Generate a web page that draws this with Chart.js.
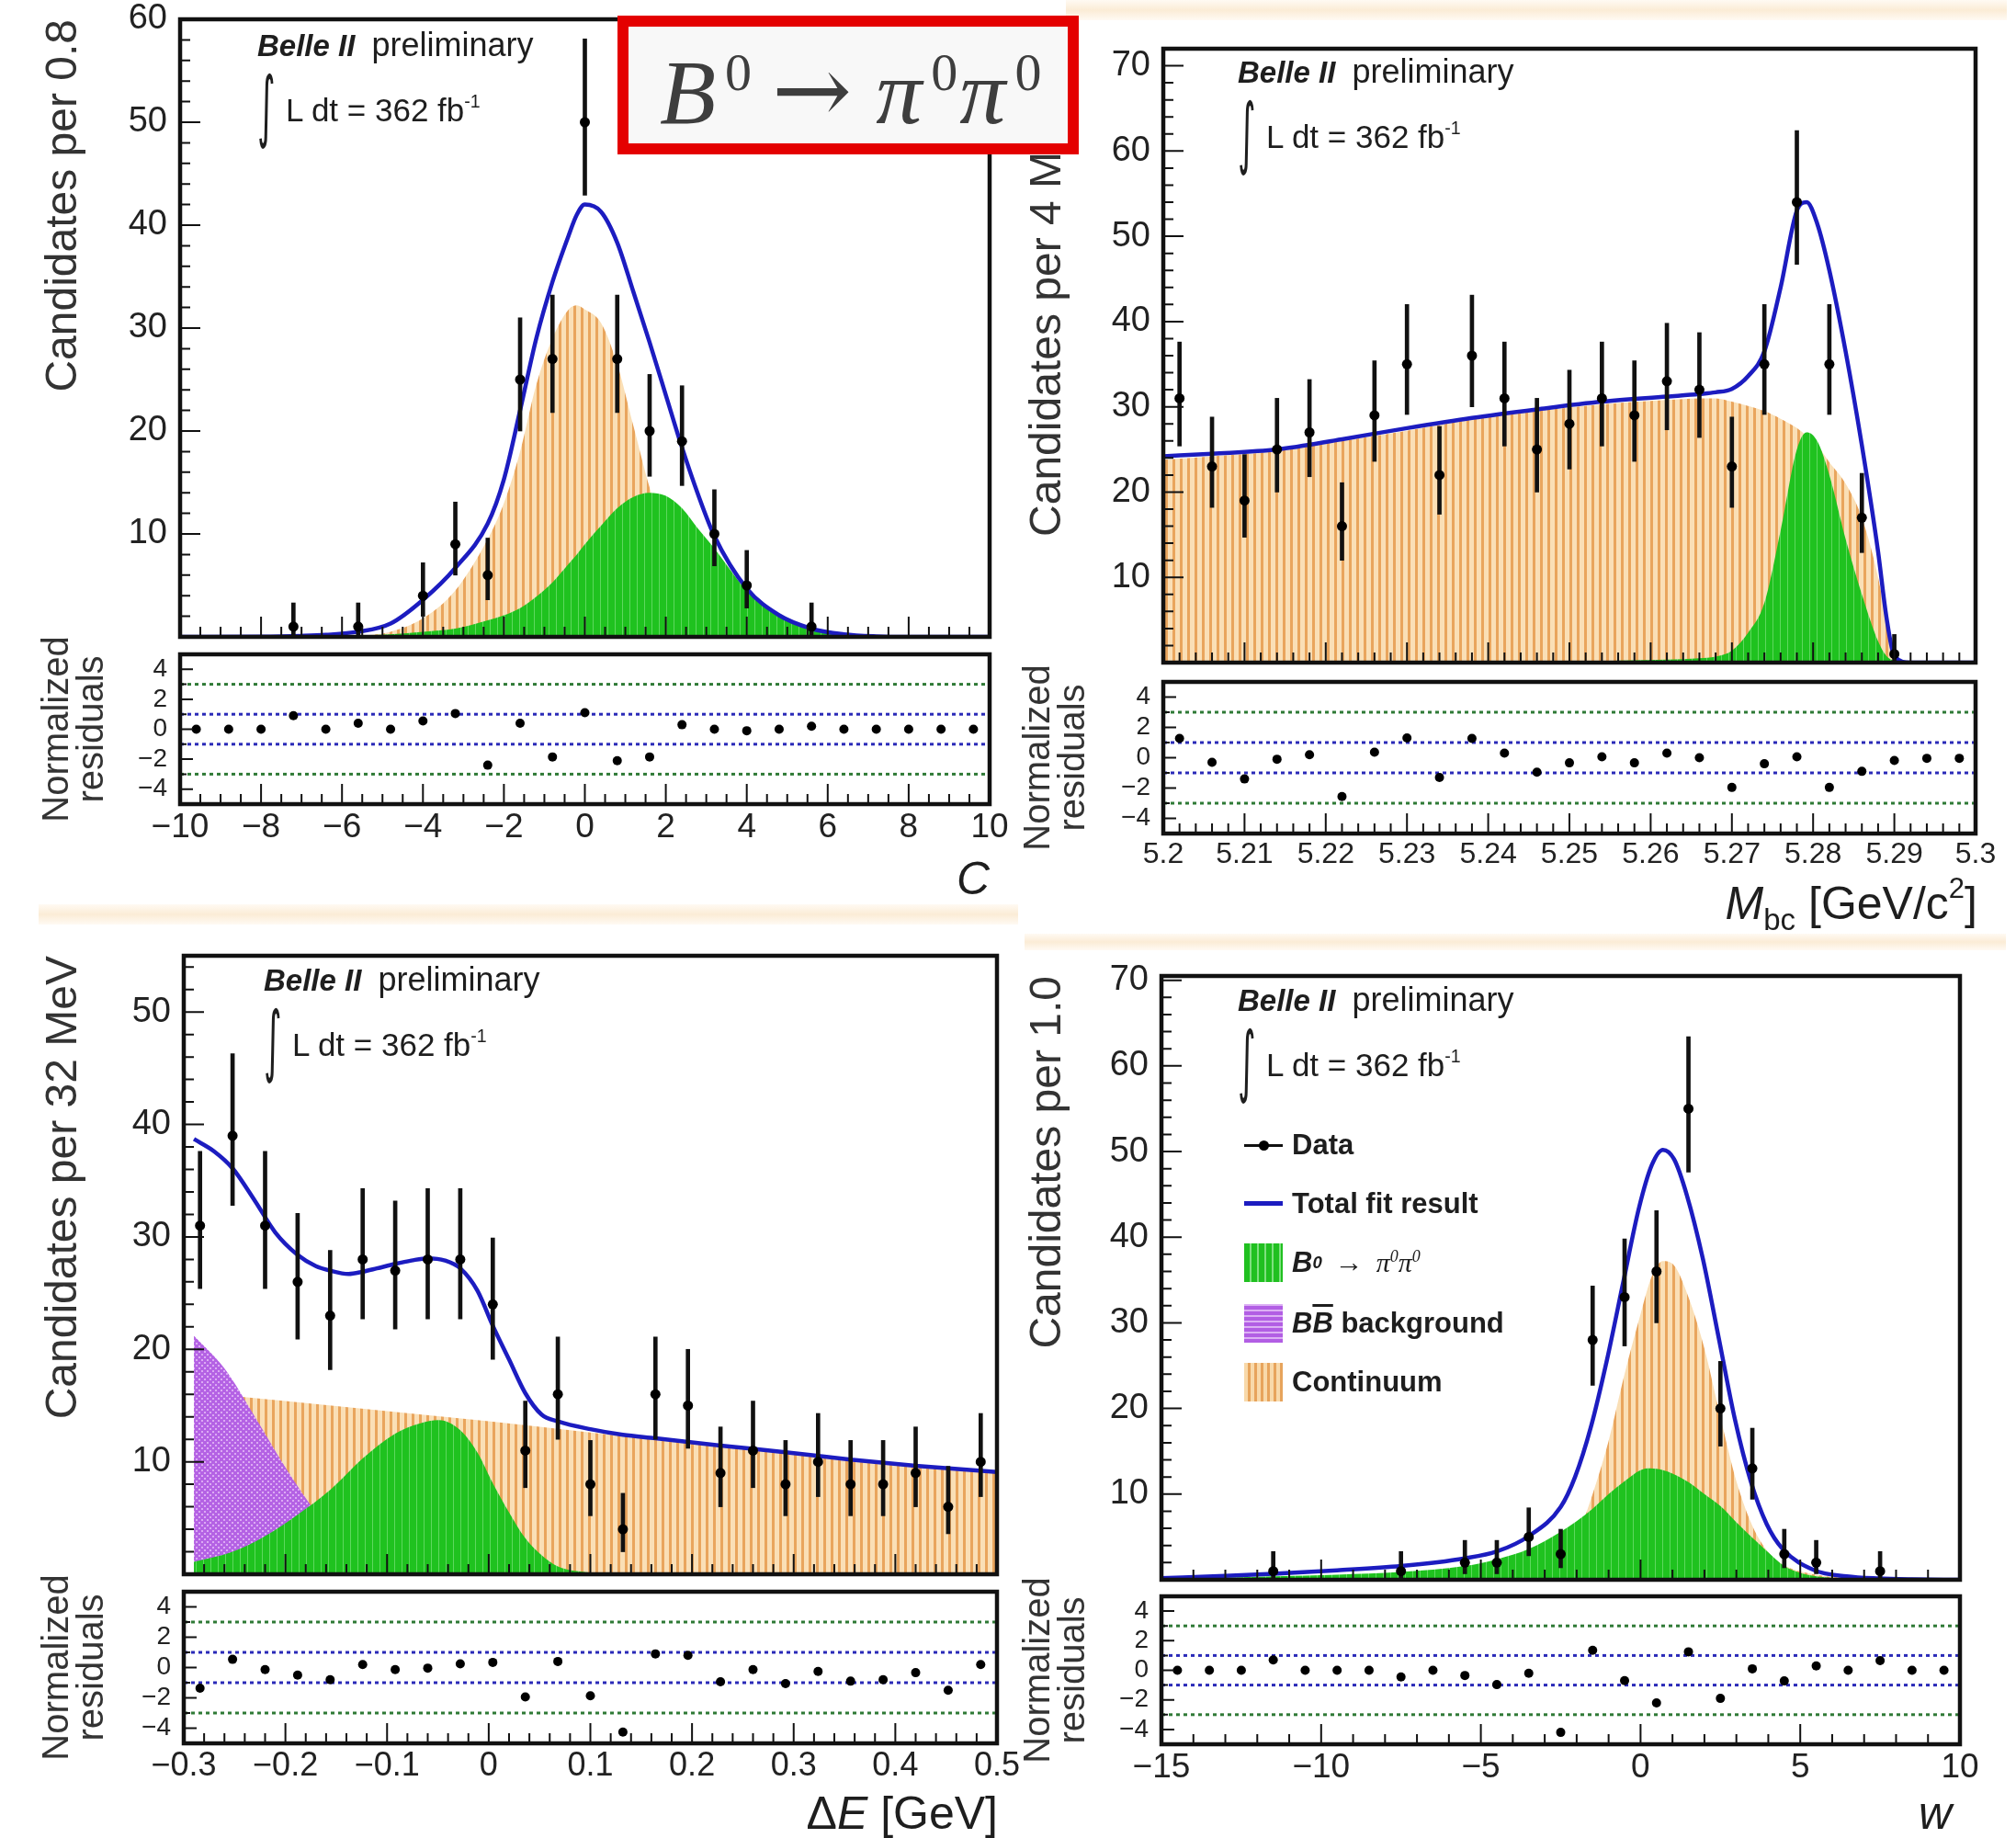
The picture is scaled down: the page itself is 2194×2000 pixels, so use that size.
<!DOCTYPE html>
<html>
<head>
<meta charset="utf-8">
<title>B0 to pi0 pi0 fit projections</title>
<script src="https://cdn.jsdelivr.net/npm/chart.js@4.4.1/dist/chart.umd.min.js"></script>
<style>
html, body { margin: 0; padding: 0; background: #fff; }
#page { position: relative; width: 2194px; height: 2000px; overflow: hidden; background: #fff;
        font-family: "Liberation Sans", Arial, sans-serif; color: #1e1e1e; }
#page canvas { position: absolute; }
.band { position: absolute; background: linear-gradient(#fffaf3, #fbecd6 50%, #fffaf3); }
.tag { position: absolute; width: 440px; height: 130px; z-index: 4; }
.tag .belle { position: absolute; left: 0; top: 0; font-size: 33px; line-height: 1; white-space: nowrap; }
.tag .belle b { font-style: italic; }
.tag .belle span { margin-left: 18px; font-size: 36px; }
.tag .int { position: absolute; left: -8px; top: 50px; font: 68px/1 "DejaVu Sans", sans-serif; transform: scale(0.55, 1.25); }
.tag .ldt { position: absolute; left: 31px; top: 71px; font-size: 35px; line-height: 1; white-space: nowrap; }
.tag sup { font-size: 56%; vertical-align: 0.75em; line-height: 0; }
.xt { position: absolute; z-index: 4; font-size: 50px; line-height: 1; white-space: nowrap; }
.xt sub { font-size: 66%; vertical-align: -0.35em; line-height: 0; }
.xt sup { font-size: 62%; vertical-align: 0.75em; line-height: 0; }
#decay { position: absolute; left: 672px; top: 17px; width: 502px; height: 151px; box-sizing: border-box;
         border: 12px solid #e40000; background: #f8f8f8; z-index: 6; color: #3e3e3e;
         font-family: "Liberation Serif", "DejaVu Serif", serif; font-size: 100px; line-height: 1;
         padding: 17px 0 0 34px; white-space: nowrap; }
#decay sup { font-size: 58%; vertical-align: 0.62em; line-height: 0; font-style: normal; margin-left: 10px; }
#decay .arr { font-family: "DejaVu Serif", serif; font-size: 104px; margin: 0 26px 0 22px; }
#decay .p2 { margin-left: 2px; }
.leg { position: absolute; left: 1354px; height: 42px; display: flex; align-items: center; z-index: 4;
       font-weight: bold; font-size: 31px; white-space: nowrap; }
.leg .sw { width: 42px; height: 42px; margin-right: 10px; position: relative; flex: none; }
.sw.data::before { content: ""; position: absolute; left: 0; right: 0; top: 20px; height: 3px; background: #111; }
.sw.data::after { content: ""; position: absolute; left: 16px; top: 16px; width: 11px; height: 11px; border-radius: 50%; background: #000; }
.sw.total::before { content: ""; position: absolute; left: 0; right: 0; top: 18px; height: 5px; background: #1c1cc0; }
.sw.sig { background: repeating-linear-gradient(90deg, #20c020 0 6px, #7fe07f 6px 8px); }
.sw.bb { background: repeating-linear-gradient(0deg, #b25ee4 0 4px, #dcb0f4 4px 6px); }
.sw.cont { background: repeating-linear-gradient(90deg, #f8d9aa 0 4px, #e7a45c 4px 7px); }
.leg .pi { font-family: "Liberation Serif", serif; font-weight: normal; font-style: italic; font-size: 30px; }
.leg sup { font-size: 60%; vertical-align: 0.6em; line-height: 0; }
.leg .ar { font-weight: normal; margin: 0 14px; }
.over { text-decoration: overline; }
</style>
</head>
<body>
<div id="page">
  <div class="band" style="left:1160px; top:0; width:1024px; height:22px"></div>
  <div class="band" style="left:42px; top:984px; width:1066px; height:22px"></div>
  <div class="band" style="left:1115px; top:1016px; width:1068px; height:18px"></div>

  <canvas id="cMain"></canvas>
  <canvas id="cRes"></canvas>
  <canvas id="mMain"></canvas>
  <canvas id="mRes"></canvas>
  <canvas id="dMain"></canvas>
  <canvas id="dRes"></canvas>
  <canvas id="wMain"></canvas>
  <canvas id="wRes"></canvas>

  <div id="decay"><i>B</i><sup>0</sup><span class="arr">→</span><i>π</i><sup>0</sup><i class="p2">π</i><sup>0</sup></div>

  <div class="tag" style="left:280px; top:31px">
    <div class="belle"><b>Belle II</b><span>preliminary</span></div>
    <div class="int">∫</div>
    <div class="ldt">L dt = 362 fb<sup>-1</sup></div>
  </div>
  <div class="tag" style="left:1347px; top:60px">
    <div class="belle"><b>Belle II</b><span>preliminary</span></div>
    <div class="int">∫</div>
    <div class="ldt">L dt = 362 fb<sup>-1</sup></div>
  </div>
  <div class="tag" style="left:287px; top:1048px">
    <div class="belle"><b>Belle II</b><span>preliminary</span></div>
    <div class="int">∫</div>
    <div class="ldt">L dt = 362 fb<sup>-1</sup></div>
  </div>
  <div class="tag" style="left:1347px; top:1070px">
    <div class="belle"><b>Belle II</b><span>preliminary</span></div>
    <div class="int">∫</div>
    <div class="ldt">L dt = 362 fb<sup>-1</sup></div>
  </div>

  <div class="leg" style="top:1225px"><span class="sw data"></span>Data</div>
  <div class="leg" style="top:1289px"><span class="sw total"></span>Total fit result</div>
  <div class="leg" style="top:1353px"><span class="sw sig"></span><i>B</i><sup><i>0</i></sup><span class="ar">→</span><span class="pi">π<sup>0</sup>π<sup>0</sup></span></div>
  <div class="leg" style="top:1419px"><span class="sw bb"></span><i>B<span class="over">B</span></i>&nbsp;background</div>
  <div class="leg" style="top:1483px"><span class="sw cont"></span>Continuum</div>

  <div class="xt" style="right:1117px; top:931px"><i>C</i></div>
  <div class="xt" style="right:42px; top:958px"><i>M</i><sub>bc</sub> [GeV/c<sup>2</sup>]</div>
  <div class="xt" style="right:1108px; top:1948px">Δ<i>E</i> [GeV]</div>
  <div class="xt" style="right:70px; top:1948px"><i>w</i></div>
</div>

<script>
// ---------- C : continuum-suppression output ----------
const cRange = [-10, 10];
const cYMax = 60;
const cTicks = [-10, -8, -6, -4, -2, 0, 2, 4, 6, 8, 10];
const cYTicks = [10, 20, 30, 40, 50, 60];
const cBins = [-9.6, -8.8, -8.0, -7.2, -6.4, -5.6, -4.8, -4.0, -3.2, -2.4, -1.6, -0.8, 0, 0.8, 1.6, 2.4, 3.2, 4.0, 4.8, 5.6, 6.4, 7.2, 8.0, 8.8, 9.6];
const cCounts = [0, 0, 0, 1, 0, 1, 0, 4, 9, 6, 25, 27, 50, 27, 20, 19, 10, 5, 0, 1, 0, 0, 0, 0, 0];
const cErrLo = [0, 0, 0, 0.8, 0, 0.8, 0, 2.0, 3.0, 2.4, 5.0, 5.2, 7.1, 5.2, 4.4, 4.3, 3.1, 2.2, 0, 0.8, 0, 0, 0, 0, 0];
const cErrHi = [0, 0, 0, 2.3, 0, 2.3, 0, 3.2, 4.1, 3.6, 6.0, 6.2, 8.1, 6.2, 5.5, 5.4, 4.3, 3.4, 0, 2.3, 0, 0, 0, 0, 0];
const cPulls = [0, 0, 0, 0.9, 0, 0.4, 0, 0.55, 1.05, -2.4, 0.4, -1.85, 1.1, -2.1, -1.85, 0.3, 0, -0.1, 0, 0.2, 0, 0, 0, 0, 0];
const cFitX = [-10, -8, -7, -6.4, -5.6, -4.8, -4.0, -3.2, -2.4, -2.0, -1.6, -1.2, -0.8, -0.4, -0.2, 0, 0.4, 0.8, 1.2, 1.6, 2.0, 2.4, 2.8, 3.2, 4.0, 4.8, 5.6, 6.4, 7.2, 8, 10];
const cTotal = [0, 0.02, 0.1, 0.2, 0.5, 1.3, 3.6, 6.7, 11, 15.3, 22, 29, 34.5, 39, 41, 42, 41.3, 38.3, 33.5, 28.6, 23.5, 18.4, 13.8, 9.8, 4.7, 2.1, 0.8, 0.25, 0.05, 0, 0];
const cCont = [0, 0, 0, 0.02, 0.1, 0.5, 1.8, 4.5, 9.5, 13, 18, 24.5, 29, 31.8, 32.2, 31.8, 30.5, 26.5, 20.5, 14.5, 9.5, 6, 3.5, 2, 0.6, 0.1, 0, 0, 0, 0, 0];
const cSig = [0, 0.02, 0.05, 0.1, 0.15, 0.25, 0.5, 0.8, 1.6, 2.1, 2.8, 3.9, 5.3, 7.1, 8.0, 9.0, 10.8, 12.5, 13.6, 14.0, 13.7, 12.5, 10.5, 8.6, 4.5, 2.0, 0.8, 0.25, 0.05, 0, 0];

// ---------- Mbc ----------
const mRange = [5.2, 5.3];
const mYMax = 72;
const mTicks = [5.2, 5.21, 5.22, 5.23, 5.24, 5.25, 5.26, 5.27, 5.28, 5.29, 5.3];
const mYTicks = [10, 20, 30, 40, 50, 60, 70];
const mBins = [5.202, 5.206, 5.210, 5.214, 5.218, 5.222, 5.226, 5.230, 5.234, 5.238, 5.242, 5.246, 5.250, 5.254, 5.258, 5.262, 5.266, 5.270, 5.274, 5.278, 5.282, 5.286, 5.290, 5.294, 5.298];
const mCounts = [31, 23, 19, 25, 27, 16, 29, 35, 22, 36, 31, 25, 28, 31, 29, 33, 32, 23, 35, 54, 35, 17, 1, 0, 0];
const mErrLo = [5.6, 4.8, 4.3, 5.0, 5.2, 4.0, 5.4, 5.9, 4.6, 6.0, 5.6, 5.0, 5.3, 5.6, 5.4, 5.7, 5.6, 4.8, 5.9, 7.3, 5.9, 4.1, 0.8, 0, 0];
const mErrHi = [6.6, 5.8, 5.4, 6.0, 6.2, 5.1, 6.4, 7.0, 5.7, 7.1, 6.6, 6.0, 6.3, 6.6, 6.4, 6.8, 6.7, 5.8, 7.0, 8.4, 7.0, 5.2, 2.3, 0, 0];
const mPulls = [1.27, -0.3, -1.4, -0.1, 0.2, -2.56, 0.36, 1.3, -1.3, 1.27, 0.3, -0.95, -0.34, 0.06, -0.34, 0.3, 0, -1.96, -0.4, 0.06, -1.96, -0.9, -0.18, -0.04, -0.04];
const mFitX = [5.200, 5.206, 5.214, 5.222, 5.230, 5.238, 5.246, 5.254, 5.262, 5.266, 5.268, 5.270, 5.272, 5.274, 5.276, 5.278, 5.2792, 5.2805, 5.282, 5.284, 5.286, 5.288, 5.289, 5.290, 5.292, 5.300];
const mTotal = [24.2, 24.5, 25, 26.2, 27.5, 28.7, 29.7, 30.6, 31.2, 31.5, 31.7, 32.1, 33.6, 36.5, 44, 53, 54, 51.5, 46, 36.5, 25.5, 13, 5.5, 0.8, 0, 0];
const mCont = [23.8, 24.2, 24.8, 26, 27.2, 28.5, 29.5, 30.3, 30.8, 31, 31, 30.6, 30.1, 29.5, 28.6, 27.5, 26.6, 25.5, 23.5, 21, 17, 10, 5, 0.5, 0, 0];
const mSig = [0, 0, 0, 0.02, 0.04, 0.07, 0.1, 0.2, 0.35, 0.5, 0.7, 1.4, 3.5, 7, 15.5, 25, 27, 26, 22, 14.5, 8, 2.5, 0.8, 0.2, 0, 0];

// ---------- Delta E ----------
const dRange = [-0.3, 0.5];
const dYMax = 55;
const dTicks = [-0.3, -0.2, -0.1, 0, 0.1, 0.2, 0.3, 0.4, 0.5];
const dYTicks = [10, 20, 30, 40, 50];
const dBins = [-0.284, -0.252, -0.220, -0.188, -0.156, -0.124, -0.092, -0.060, -0.028, 0.004, 0.036, 0.068, 0.100, 0.132, 0.164, 0.196, 0.228, 0.260, 0.292, 0.324, 0.356, 0.388, 0.420, 0.452, 0.484];
const dCounts = [31, 39, 31, 26, 23, 28, 27, 28, 28, 24, 11, 16, 8, 4, 16, 15, 9, 11, 8, 10, 8, 8, 9, 6, 10];
const dErrLo = [5.6, 6.2, 5.6, 5.1, 4.8, 5.3, 5.2, 5.3, 5.3, 4.9, 3.3, 4.0, 2.8, 2.0, 4.0, 3.8, 3.0, 3.3, 2.8, 3.1, 2.8, 2.8, 3.0, 2.4, 3.1];
const dErrHi = [6.6, 7.3, 6.6, 6.1, 5.8, 6.3, 6.2, 6.3, 6.3, 5.9, 4.4, 5.1, 3.9, 3.2, 5.1, 5.0, 4.1, 4.4, 3.9, 4.3, 3.9, 3.9, 4.1, 3.6, 4.3];
const dPulls = [-1.36, 0.54, -0.14, -0.5, -0.8, 0.2, -0.14, -0.04, 0.24, 0.34, -1.94, 0.4, -1.86, -4.26, 0.9, 0.8, -0.94, -0.14, -1.06, -0.26, -0.9, -0.8, -0.34, -1.5, 0.2];
const dTotalX = [-0.29, -0.27, -0.252, -0.23, -0.21, -0.188, -0.17, -0.156, -0.138, -0.124, -0.11, -0.092, -0.076, -0.06, -0.043, -0.028, -0.011, 0.004, 0.020, 0.036, 0.052, 0.068, 0.1, 0.132, 0.164, 0.228, 0.292, 0.356, 0.42, 0.5];
const dTotal = [38.7, 37.6, 36.1, 33.2, 30.4, 28.4, 27.4, 27, 26.7, 26.9, 27.2, 27.6, 27.9, 28.1, 27.9, 27.2, 25.2, 22.1, 19.1, 16.1, 14.2, 13.6, 12.9, 12.4, 12.1, 11.45, 10.85, 10.2, 9.65, 9.1];
const dContX = [-0.29, -0.2, -0.1, 0, 0.1, 0.2, 0.3, 0.4, 0.5];
const dCont = [16.2, 15.4, 14.5, 13.6, 12.6, 11.6, 10.75, 9.9, 9.05];
const dSigX = [-0.29, -0.252, -0.220, -0.188, -0.156, -0.124, -0.092, -0.068, -0.049, -0.028, -0.011, 0.004, 0.020, 0.036, 0.052, 0.068, 0.100, 0.132, 0.5];
const dSig = [1.1, 2.0, 3.4, 5.3, 7.5, 10.3, 12.5, 13.4, 13.7, 12.8, 10.8, 8.1, 5.5, 3.2, 1.7, 0.7, 0.15, 0, 0];
const dBBX = [-0.29, -0.26, -0.23, -0.20, -0.17, -0.15, -0.13, -0.11, -0.09, -0.07, 0.5];
const dBB = [21.2, 18.3, 14.0, 9.5, 5.5, 3.4, 1.8, 0.8, 0.2, 0, 0];

// ---------- w ----------
const wRange = [-15, 10];
const wYMax = 70.5;
const wTicks = [-15, -10, -5, 0, 5, 10];
const wYTicks = [10, 20, 30, 40, 50, 60, 70];
const wBins = [-14.5, -13.5, -12.5, -11.5, -10.5, -9.5, -8.5, -7.5, -6.5, -5.5, -4.5, -3.5, -2.5, -1.5, -0.5, 0.5, 1.5, 2.5, 3.5, 4.5, 5.5, 6.5, 7.5, 8.5, 9.5];
const wCounts = [0, 0, 0, 1, 0, 0, 0, 1, 0, 2, 2, 5, 3, 28, 33, 36, 55, 20, 13, 3, 2, 0, 1, 0, 0];
const wErrLo = [0, 0, 0, 0.8, 0, 0, 0, 0.8, 0, 1.3, 1.3, 2.2, 1.6, 5.3, 5.7, 6.0, 7.4, 4.4, 3.6, 1.6, 1.3, 0, 0.8, 0, 0];
const wErrHi = [0, 0, 0, 2.3, 0, 0, 0, 2.3, 0, 2.6, 2.6, 3.4, 2.9, 6.3, 6.8, 7.1, 8.4, 5.5, 4.7, 2.9, 2.6, 0, 2.3, 0, 0];
const wPulls = [0, 0, 0, 0.7, 0, 0, 0, -0.45, 0, -0.35, -0.97, -0.2, -4.2, 1.35, -0.7, -2.2, 1.25, -1.9, 0.1, -0.72, 0.3, 0, 0.65, 0, 0];
const wTotalX = [-15, -13, -11.5, -9.5, -7.5, -5.5, -4.5, -3.5, -2.5, -2.05, -1.55, -1.05, -0.55, -0.05, 0.35, 0.7, 1.05, 1.45, 1.95, 2.45, 2.95, 3.45, 3.95, 4.45, 5.45, 6.45, 7.45, 8.5, 10];
const wTotal = [0.2, 0.45, 0.7, 1.1, 1.6, 2.5, 3.3, 5.1, 8.5, 12, 17.9, 25.7, 34.6, 43.4, 48.4, 50.2, 49.1, 44.9, 37.5, 28.2, 18.8, 11.5, 6.5, 3.6, 1.1, 0.4, 0.15, 0.05, 0];
const wContX = [-15, -11.5, -7.5, -5.5, -4.5, -3.5, -2.5, -2.0, -1.5, -1.0, -0.5, 0, 0.35, 0.7, 1.05, 1.5, 2.0, 2.5, 3.0, 3.5, 4.0, 4.5, 5.5, 6.5, 7.5, 10];
const wCont = [0.05, 0.3, 0.6, 0.8, 0.9, 1.5, 2.9, 5, 10, 16.2, 24, 31, 35.4, 37.2, 36.7, 33, 27, 19, 11.5, 6.3, 3.2, 1.7, 0.6, 0.2, 0, 0];
const wSigX = [-15, -11.5, -9.5, -7.5, -5.5, -4.5, -3.5, -2.5, -1.5, -1.0, -0.5, 0, 0.3, 0.7, 1.0, 1.5, 2.0, 2.5, 3.0, 3.5, 4.0, 4.5, 5.0, 5.5, 6.5, 7.5, 10];
const wSig = [0.05, 0.4, 0.6, 0.9, 1.6, 2.4, 3.6, 5.6, 8.3, 10, 11.5, 12.8, 13, 12.8, 12.4, 11.4, 10, 8.6, 6.7, 4.9, 3.2, 1.6, 0.8, 0.4, 0.1, 0, 0];

// residual panels
const pullRange = [-5, 5];
const pullTicks = [-4, -2, 0, 2, 4];
const pullLines = [3, 1, -1, -3];

const FONT = '"Liberation Sans", Arial, sans-serif';
Chart.defaults.font.family = FONT;
Chart.defaults.color = '#222';

const BLUE = '#1c1cc0';

function tile(w, h, paint) {
  const c = document.createElement('canvas');
  c.width = w; c.height = h;
  const g = c.getContext('2d');
  paint(g, w, h);
  return g.createPattern(c, 'repeat');
}
const contFill = tile(8, 8, (g, w, h) => {
  g.fillStyle = '#fadfb6'; g.fillRect(0, 0, w, h);
  g.fillStyle = '#e9a55d'; g.fillRect(0, 0, 3, h);
});
const sigFill = tile(8, 8, (g, w, h) => {
  g.fillStyle = '#1fc21f'; g.fillRect(0, 0, w, h);
  g.fillStyle = '#5ed85e'; g.fillRect(5, 0, 1, h);
});
const bbFill = tile(6, 6, (g, w, h) => {
  g.fillStyle = '#b462e4'; g.fillRect(0, 0, w, h);
  g.fillStyle = '#dcaaf4'; g.fillRect(0, 0, 2, 2); g.fillRect(3, 3, 2, 2);
});

// inward ROOT-style tick marks plus the heavy frame
const frameTicks = {
  id: 'frameTicks',
  afterDraw(chart, args, o) {
    const { ctx, chartArea: a } = chart;
    const sx = chart.scales.x, sy = chart.scales.y;
    const marks = (lo, hi, step, major) => {
      const out = [];
      for (let k = Math.ceil(lo / step - 1e-6); k * step <= hi + step * 1e-6; k++) {
        const v = k * step;
        out.push([v, major.some(m => Math.abs(m - v) < step * 1e-3)]);
      }
      return out;
    };
    ctx.save();
    ctx.strokeStyle = '#111';
    ctx.lineWidth = 2;
    ctx.beginPath();
    for (const [v, big] of marks(sx.min, sx.max, o.xMinor, o.xMajor)) {
      const px = sx.getPixelForValue(v);
      ctx.moveTo(px, a.bottom);
      ctx.lineTo(px, a.bottom - (big ? o.xLen : o.xLen / 2));
    }
    for (const [v, big] of marks(sy.min, sy.max, o.yMinor, o.yMajor)) {
      const py = sy.getPixelForValue(v);
      ctx.moveTo(a.left, py);
      ctx.lineTo(a.left + (big ? o.yLen : o.yLen / 2), py);
    }
    ctx.stroke();
    ctx.lineWidth = 4.5;
    ctx.strokeRect(a.left, a.top, a.width, a.height);
    ctx.restore();
  }
};

const fmt = v => String(+(+v).toFixed(3)).replace('-', '\u2212');
const xy = (xs, ys) => xs.map((x, i) => ({ x, y: ys[i] }));

function area(xs, ys, fill, order) {
  return { type: 'line', data: xy(xs, ys), backgroundColor: fill, borderColor: 'rgba(0,0,0,0)',
           borderWidth: 0, fill: 'origin', pointRadius: 0, cubicInterpolationMode: 'monotone', order };
}

function setCanvas(id, r) {
  const cv = document.getElementById(id);
  cv.width = r[2]; cv.height = r[3];
  cv.style.left = r[0] + 'px'; cv.style.top = r[1] + 'px';
  return cv;
}

// keep the plot frame exactly where the layout puts it
function pinWidth(w) {
  return s => { s.width = w; s.paddingTop = 0; s.paddingBottom = 0; };
}
function pinHeight(h) {
  return s => { s.height = h; s.paddingLeft = 0; s.paddingRight = 0; };
}

function buildPanel(p) {
  // main projection
  const pts = [], bars = [];
  p.bins.forEach((x, i) => {
    const n = p.counts[i];
    if (n > 0) {
      pts.push({ x, y: n });
      bars.push({ x, y: [n - p.errLo[i], n + p.errHi[i]] });
    }
  });
  const ds = [area(p.contX, p.cont, contFill, 7)];
  if (p.bb) ds.push(area(p.bbX, p.bb, bbFill, 6));
  ds.push(area(p.sigX, p.sig, sigFill, 5));
  ds.push({ type: 'line', data: xy(p.totalX, p.total), borderColor: BLUE, borderWidth: 4.5,
            pointRadius: 0, fill: false, cubicInterpolationMode: 'monotone', order: 3 });
  ds.push({ type: 'bar', data: bars, backgroundColor: '#111', barThickness: 4, grouped: false, order: 2 });
  ds.push({ type: 'line', data: pts, showLine: false, pointRadius: 5.5, pointBackgroundColor: '#000',
            pointBorderWidth: 0, order: 1 });

  const mc = p.mainCanvas, mf = p.mainFrame;
  new Chart(setCanvas(p.id + 'Main', mc), {
    type: 'line',
    data: { datasets: ds },
    options: {
      responsive: false, animation: false, devicePixelRatio: 1,
      layout: { autoPadding: false,
                padding: { left: 0, top: mf[1] - mc[1], right: mc[0] + mc[2] - mf[2], bottom: mc[1] + mc[3] - mf[3] } },
      plugins: { legend: { display: false }, tooltip: { enabled: false },
                 frameTicks: { xMajor: p.xTicks, xMinor: p.xMinor, yMajor: p.yTicks, yMinor: 2, xLen: 22, yLen: 22 } },
      scales: {
        x: { type: 'linear', min: p.range[0], max: p.range[1], display: false, offset: false },
        y: {
          type: 'linear', min: 0, max: p.yMax, offset: false,
          afterFit: pinWidth(mf[0] - mc[0]),
          afterBuildTicks: s => { s.ticks = p.yTicks.map(v => ({ value: v })); },
          grid: { display: false, drawTicks: false }, border: { display: false },
          ticks: { padding: 14, color: '#222', font: { size: 38, lineHeight: 1 }, callback: fmt },
          title: { display: true, text: p.yTitle, align: 'end', color: '#333',
                   font: { size: 48, lineHeight: 1.2 }, padding: { top: p.yTitlePad, bottom: 0 } }
        }
      }
    },
    plugins: [frameTicks]
  });

  // normalized residuals
  const rds = pullLines.map(v => ({
    type: 'line', data: [{ x: p.range[0], y: v }, { x: p.range[1], y: v }],
    borderColor: Math.abs(v) > 2 ? '#2f7a36' : '#2a2ab8', borderWidth: 3, borderDash: [4, 4],
    pointRadius: 0, fill: false, order: 2
  }));
  rds.push({ type: 'line', data: xy(p.bins, p.pulls), showLine: false, pointRadius: 5,
             pointBackgroundColor: '#000', pointBorderWidth: 0, order: 1 });

  const rc = p.resCanvas, rf = p.resFrame;
  new Chart(setCanvas(p.id + 'Res', rc), {
    type: 'line',
    data: { datasets: rds },
    options: {
      responsive: false, animation: false, devicePixelRatio: 1,
      layout: { autoPadding: false,
                padding: { left: 0, top: rf[1] - rc[1], right: rc[0] + rc[2] - rf[2], bottom: 0 } },
      plugins: { legend: { display: false }, tooltip: { enabled: false },
                 frameTicks: { xMajor: p.xTicks, xMinor: p.xMinor, yMajor: pullTicks, yMinor: 1, xLen: 22, yLen: 14 } },
      scales: {
        x: {
          type: 'linear', min: p.range[0], max: p.range[1], offset: false,
          afterFit: pinHeight(rc[1] + rc[3] - rf[3]),
          afterBuildTicks: s => { s.ticks = p.xTicks.map(v => ({ value: v })); },
          grid: { display: false, drawTicks: false }, border: { display: false },
          ticks: { padding: 7, autoSkip: false, maxRotation: 0, color: '#222',
                   font: { size: p.xFont, lineHeight: 1 }, callback: fmt }
        },
        y: {
          type: 'linear', min: pullRange[0], max: pullRange[1], offset: false,
          afterFit: pinWidth(rf[0] - rc[0]),
          afterBuildTicks: s => { s.ticks = pullTicks.map(v => ({ value: v })); },
          grid: { display: false, drawTicks: false }, border: { display: false },
          ticks: { padding: 14, color: '#222', font: { size: 28, lineHeight: 1 }, callback: fmt },
          title: { display: true, text: ['Normalized', 'residuals'], color: '#333',
                   font: { size: 40, lineHeight: 0.95 }, padding: { top: p.resTitlePad, bottom: 0 } }
        }
      }
    },
    plugins: [frameTicks]
  });
}

buildPanel({
  id: 'c', range: cRange, yMax: cYMax, xTicks: cTicks, yTicks: cYTicks, xMinor: 0.5, xFont: 37,
  bins: cBins, counts: cCounts, errLo: cErrLo, errHi: cErrHi, pulls: cPulls,
  totalX: cFitX, total: cTotal, contX: cFitX, cont: cCont, sigX: cFitX, sig: cSig,
  yTitle: 'Candidates per 0.8', yTitlePad: 41, resTitlePad: 44,
  mainCanvas: [0, 0, 1100, 700], mainFrame: [196, 21, 1077, 693],
  resCanvas: [0, 680, 1100, 300], resFrame: [196, 712, 1077, 875]
});

buildPanel({
  id: 'm', range: mRange, yMax: mYMax, xTicks: mTicks, yTicks: mYTicks, xMinor: 0.002, xFont: 32,
  bins: mBins, counts: mCounts, errLo: mErrLo, errHi: mErrHi, pulls: mPulls,
  totalX: mFitX, total: mTotal, contX: mFitX, cont: mCont, sigX: mFitX, sig: mSig,
  yTitle: 'Candidates per 4 MeV/c²', yTitlePad: 12, resTitlePad: 12,
  mainCanvas: [1100, 0, 1094, 735], mainFrame: [1266, 53, 2150, 721],
  resCanvas: [1100, 710, 1094, 300], resFrame: [1266, 742, 2150, 907]
});

buildPanel({
  id: 'd', range: dRange, yMax: dYMax, xTicks: dTicks, yTicks: dYTicks, xMinor: 0.02, xFont: 36,
  bins: dBins, counts: dCounts, errLo: dErrLo, errHi: dErrHi, pulls: dPulls,
  totalX: dTotalX, total: dTotal, contX: dContX, cont: dCont, sigX: dSigX, sig: dSig, bbX: dBBX, bb: dBB,
  yTitle: 'Candidates per 32 MeV', yTitlePad: 41, resTitlePad: 44,
  mainCanvas: [0, 1020, 1120, 700], mainFrame: [200, 1040, 1085, 1713],
  resCanvas: [0, 1700, 1120, 300], resFrame: [200, 1732, 1085, 1897]
});

buildPanel({
  id: 'w', range: wRange, yMax: wYMax, xTicks: wTicks, yTicks: wYTicks, xMinor: 1, xFont: 37,
  bins: wBins, counts: wCounts, errLo: wErrLo, errHi: wErrHi, pulls: wPulls,
  totalX: wTotalX, total: wTotal, contX: wContX, cont: wCont, sigX: wSigX, sig: wSig,
  yTitle: 'Candidates per 1.0', yTitlePad: 12, resTitlePad: 12,
  mainCanvas: [1100, 1040, 1094, 690], mainFrame: [1264, 1062, 2133, 1719],
  resCanvas: [1100, 1705, 1094, 295], resFrame: [1264, 1737, 2133, 1898]
});
</script>
</body>
</html>
